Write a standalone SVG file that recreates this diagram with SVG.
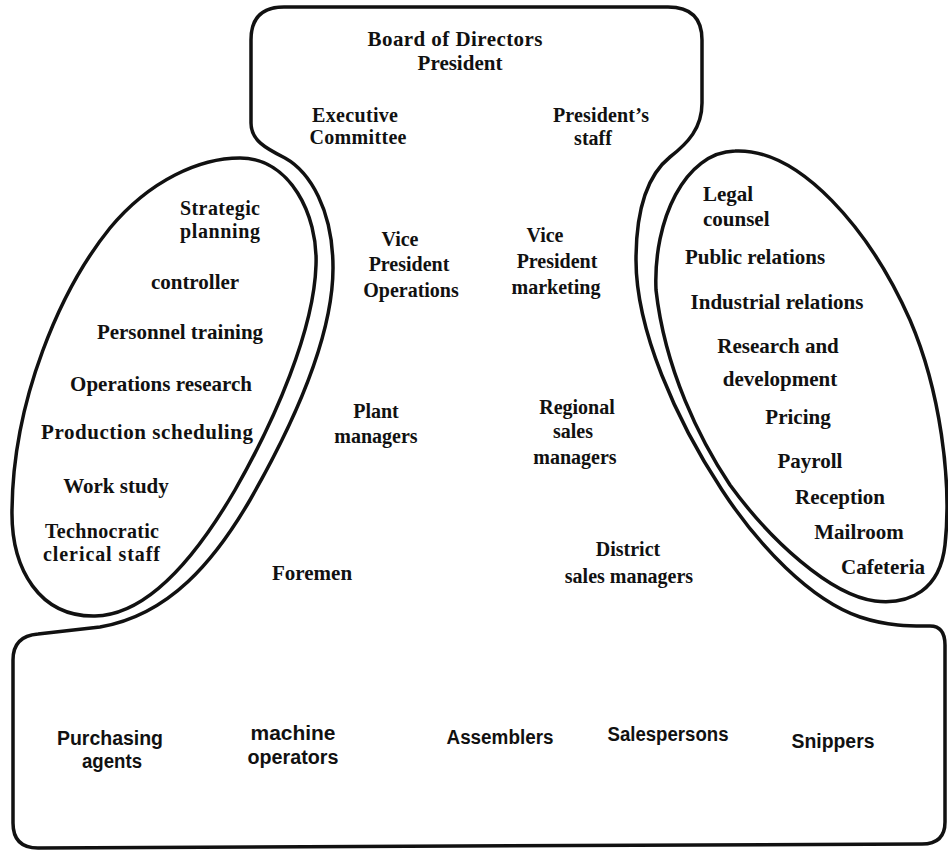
<svg xmlns="http://www.w3.org/2000/svg" width="948" height="850" viewBox="0 0 948 850">
<style>
.ln{fill:none;stroke:#111;stroke-width:3.5;stroke-linejoin:round;stroke-linecap:round}
.t{font-family:"Liberation Serif","Times New Roman",serif;font-weight:bold;font-size:21px;fill:#111;text-anchor:middle}
.m{font-size:20px}
.ts{text-anchor:start}
.b{font-family:"Liberation Sans",Arial,sans-serif;font-weight:bold;font-size:20px;fill:#111;text-anchor:middle}
</style>
<rect width="948" height="850" fill="#fff"/>
<g id="connectors">
<path id="outline" class="ln" d="M 251,40 Q 251,7 284,7 L 668,7 Q 702,7 702,40 L 702,103 C 702,128 688,143 670,157 C 650,173 636,205 636,260 C 636,330 676,420 722,490 C 758,545 810,600 860,617 C 890,627 915,626 930,626 Q 945,626 945,645 L 945,822 Q 945,844 922,844 L 38,848 Q 13,848 13,823 L 13,660 Q 13,636 38,634 L 100,627 C 170,615 215,560 250,500 C 290,430 333,340 333,268 C 333,210 310,172 285,158 C 265,148 251,140 251,123 Z"/>
<path id="technostructure-outline" class="ln" d="M 240,158 C 290,158 318,215 316,265 C 314,330 275,420 235,490 C 200,550 150,615 95,616 C 40,617 11,570 12,510 C 13,400 60,290 110,228 C 150,180 200,158 240,158 Z"/>
<path id="support-staff-outline" class="ln" d="M 735,151 C 800,148 870,230 910,320 C 940,390 952,480 945,545 C 940,590 910,605 875,601 C 830,595 770,540 730,485 C 700,440 665,370 656,290 C 653,220 685,152 735,151 Z"/>
</g>
<g id="strategic-apex">
<text class="t" x="455" y="46" textLength="175">Board of Directors</text>
<text class="t" x="460" y="70">President</text>
<text class="t m" x="355" y="122" textLength="86">Executive</text>
<text class="t m" x="358" y="144" textLength="97">Committee</text>
<text class="t m" x="601" y="122" textLength="96">President’s</text>
<text class="t m" x="593" y="145">staff</text>
</g>
<g id="technostructure">
<text class="t m" x="220" y="215" textLength="80">Strategic</text>
<text class="t m" x="220" y="238" textLength="80">planning</text>
<text class="t" x="195" y="289">controller</text>
<text class="t" x="180" y="339">Personnel training</text>
<text class="t" x="161" y="391">Operations research</text>
<text class="t" x="147" y="439" textLength="212">Production scheduling</text>
<text class="t" x="116" y="493">Work study</text>
<text class="t m ts" x="45" y="538" textLength="114">Technocratic</text>
<text class="t m ts" x="43" y="561" textLength="117">clerical staff</text>
</g>
<g id="middle-line">
<text class="t m" x="400" y="246">Vice</text>
<text class="t m" x="409" y="271">President</text>
<text class="t m" x="411" y="297">Operations</text>
<text class="t m" x="545" y="242">Vice</text>
<text class="t m" x="557" y="268">President</text>
<text class="t m" x="556" y="294">marketing</text>
<text class="t m" x="376" y="418">Plant</text>
<text class="t m" x="376" y="443">managers</text>
<text class="t m" x="577" y="414">Regional</text>
<text class="t m" x="573" y="438">sales</text>
<text class="t m" x="575" y="464">managers</text>
<text class="t ts" x="272" y="580">Foremen</text>
<text class="t m" x="628" y="556">District</text>
<text class="t m" x="629" y="583">sales managers</text>
</g>
<g id="support-staff">
<text class="t ts" x="703" y="201">Legal</text>
<text class="t ts" x="703" y="226">counsel</text>
<text class="t" x="755" y="264">Public relations</text>
<text class="t" x="777" y="309">Industrial relations</text>
<text class="t" x="778" y="353">Research and</text>
<text class="t" x="780" y="386">development</text>
<text class="t" x="798" y="424">Pricing</text>
<text class="t" x="810" y="468">Payroll</text>
<text class="t" x="840" y="504">Reception</text>
<text class="t" x="859" y="539">Mailroom</text>
<text class="t" x="883" y="574">Cafeteria</text>
</g>
<g id="operating-core">
<text class="b" x="110" y="745" textLength="106" lengthAdjust="spacingAndGlyphs">Purchasing</text>
<text class="b" x="112" y="768" textLength="60" lengthAdjust="spacingAndGlyphs">agents</text>
<text class="b" x="293" y="740" textLength="85" lengthAdjust="spacingAndGlyphs">machine</text>
<text class="b" x="293" y="764" textLength="91" lengthAdjust="spacingAndGlyphs">operators</text>
<text class="b" x="500" y="744" textLength="107" lengthAdjust="spacingAndGlyphs">Assemblers</text>
<text class="b" x="668" y="741" textLength="121" lengthAdjust="spacingAndGlyphs">Salespersons</text>
<text class="b" x="833" y="748" textLength="83" lengthAdjust="spacingAndGlyphs">Snippers</text>
</g>
</svg>
